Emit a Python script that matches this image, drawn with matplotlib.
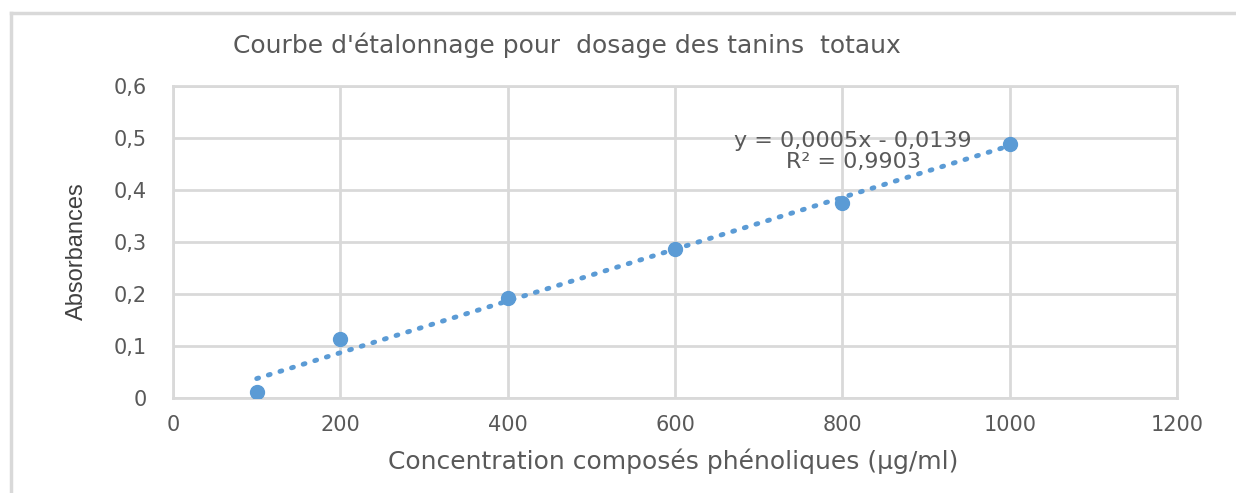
import matplotlib

matplotlib.use("Agg", force=True)
import matplotlib.pyplot as plt
from matplotlib import font_manager
from matplotlib.lines import Line2D
from matplotlib.ticker import FuncFormatter
import numpy as np

# Calibration data
concentration = [100, 200, 400, 600, 800, 1000]
absorbance = [0.012, 0.113, 0.193, 0.287, 0.375, 0.488]

title = "Courbe d'étalonnage pour  dosage des tanins  totaux"
x_label = "Concentration composés phénoliques (µg/ml)"
y_label = "Absorbances"
equation = "y = 0,0005x - 0,0139\nR² = 0,9903"

BLUE = "#5b9bd5"
GRID = "#d9d9d9"
TEXT = "#595959"

plt.rcParams["font.family"] = ["DejaVu Sans"]

installed = {f.name for f in font_manager.fontManager.ttflist}
narrow = "Liberation Sans Narrow" if "Liberation Sans Narrow" in installed else "Liberation Sans"

fig = plt.figure(figsize=(12.36, 4.93), dpi=100)
ax = fig.add_axes([0.1400, 0.1927, 0.8123, 0.6329])

# linear trendline from the data
slope, intercept = np.polyfit(concentration, absorbance, 1)
x_fit = np.array([min(concentration), max(concentration)])
ax.plot(x_fit, slope * x_fit + intercept, color=BLUE, linewidth=3.5,
        dashes=(0.4, 2.1), dash_capstyle="round", zorder=3)
ax.plot(concentration, absorbance, "o", color=BLUE, markersize=10, zorder=4)

ax.set_xlim(0, 1200)
ax.set_ylim(0, 0.6)
ax.set_xticks(range(0, 1201, 200))
ax.set_yticks(np.arange(0, 0.61, 0.1))
ax.yaxis.set_major_formatter(
    FuncFormatter(lambda v, _: f"{v:.1f}".replace(".", ",") if v > 1e-9 else "0"))
ax.grid(True, color=GRID, linewidth=2)
ax.set_axisbelow(True)
for side in ax.spines.values():
    side.set_color(GRID)
    side.set_linewidth(2)
ax.tick_params(length=0, labelsize=15, labelcolor=TEXT)
ax.tick_params(axis="y", pad=19)
ax.tick_params(axis="x", pad=12)

ax.text(813, 0.474, equation, ha="center", va="center", fontsize=16,
        color=TEXT, linespacing=1.12)

fig.text(0.459, 0.908, title, ha="center", va="center", fontsize=18, color=TEXT)
fig.text(0.545, 0.065, x_label, ha="center", va="center", fontsize=18, color=TEXT)
fig.text(0.062, 0.49, y_label, ha="center", va="center", rotation=90,
         fontsize=17, color="#404040", family=[narrow, "DejaVu Sans"])

# outer chart frame (left and top edges visible)
fig.add_artist(Line2D([0.0089, 0.0089], [0.0, 0.974], color=GRID, linewidth=2.5))
fig.add_artist(Line2D([0.0089, 1.0], [0.974, 0.974], color=GRID, linewidth=2.5))

fig.savefig("out.png", dpi=100)
